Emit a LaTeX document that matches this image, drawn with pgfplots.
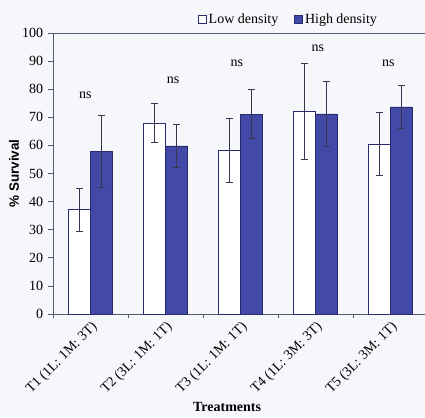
\documentclass[border=0pt]{standalone}
\usepackage{fontspec}
\setmainfont{Liberation Serif}
\setsansfont{Liberation Sans}
\usepackage{pgfplots}
\usepackage{pgfplotstable}
\pgfplotsset{compat=1.18}
\definecolor{barblue}{HTML}{4249A6}
\definecolor{bardark}{HTML}{262B6E}
\definecolor{axcol}{HTML}{55586E}
\definecolor{errcol}{HTML}{3A3550}
\definecolor{bgcol}{HTML}{F6F7FA}

\pgfplotstableread{
x low lowe high highe
0 37.1 7.6 57.9 12.8
1 68.0 7.1 59.8 7.8
2 58.2 11.5 71.1 8.7
3 72.1 17.2 71.2 11.4
4 60.5 11.1 73.7 7.5
}\data

\begin{document}
\fontsize{14}{16}\selectfont
\begin{tikzpicture}
\fill[bgcol] (-53pt,-103pt) rectangle (372pt,314pt);
\begin{axis}[
  at={(0,0)}, anchor=south west,
  scale only axis, width=372pt, height=281pt,
  xmin=-0.5, xmax=4.46, ymin=0, ymax=100,
  axis lines*=left,
  axis line style={axcol, line width=0.8pt, -},
  ybar, bar width=0.293,
  ytick={0,10,...,100},
  xtick={0,1,2,3,4},
  xticklabels={T1 (1L: 1M: 3T), T2 (3L: 1M: 1T), T3 (1L: 1M: 1T), T4 (1L: 3M: 3T), T5 (3L: 3M: 1T)},
  minor xtick={-0.5,0.5,1.5,2.5,3.5},
  major x tick style={draw=none},
  tick align=outside,
  major tick length=5pt, minor tick length=4pt,
  tick style={axcol, line width=0.8pt},
  /pgf/number format/assume math mode=true,
  ticklabel style={font=\fontsize{14}{16}\selectfont, text=black},
  xticklabel style={rotate=45, anchor=north east, inner sep=1pt},
  ylabel={\% Survival},
  ylabel style={font=\sffamily\bfseries\fontsize{13.5}{16}\selectfont, at={(axis description cs:-0.105,0.5)}, anchor=center},
  xlabel={Treatments},
  xlabel style={font=\bfseries\fontsize{14}{16}\selectfont, at={(axis description cs:0.468,-0.331)}, anchor=center},
  legend style={at={(0.633,1)}, anchor=south, yshift=3pt, draw=none, fill=none,
    legend columns=2, font=\fontsize{14}{16}\selectfont,
    /tikz/every even column/.append style={column sep=14pt}},
  clip=false,
]
\addplot[fill=white, draw=bardark, line width=0.8pt, bar shift=-0.1465,
  legend image code/.code={\draw[fill=white, draw=bardark, line width=0.7pt] (0pt,-3.5pt) rectangle (8pt,4.5pt);},
  error bars/.cd, y dir=both, y explicit,
  error bar style={errcol, line width=0.8pt},
  error mark options={errcol, rotate=90, mark size=3.5pt, line width=0.8pt}]
  table[x=x, y=low, y error=lowe]{\data};
\addlegendentry{Low density}
\addplot[fill=barblue, draw=bardark, line width=0.8pt, bar shift=0.1465,
  legend image code/.code={\draw[fill=barblue, draw=bardark, line width=0.7pt] (0pt,-3.5pt) rectangle (8pt,4.5pt);},
  error bars/.cd, y dir=both, y explicit,
  error bar style={errcol, line width=0.8pt},
  error mark options={errcol, rotate=90, mark size=3.5pt, line width=0.8pt}]
  table[x=x, y=high, y error=highe]{\data};
\addlegendentry{High density}
\draw[axcol, line width=0.8pt] (rel axis cs:0,1) -- (rel axis cs:1,1);
\node[font=\fontsize{14}{16}\selectfont] at (axis cs:-0.07,78.0) {ns};
\node[font=\fontsize{14}{16}\selectfont] at (axis cs:1.10,83.0) {ns};
\node[font=\fontsize{14}{16}\selectfont] at (axis cs:1.95,89.3) {ns};
\node[font=\fontsize{14}{16}\selectfont] at (axis cs:3.03,94.6) {ns};
\node[font=\fontsize{14}{16}\selectfont] at (axis cs:3.97,89.3) {ns};
\end{axis}
\pgfresetboundingbox
\path (-53pt,-103pt) rectangle (372pt,314pt);
\end{tikzpicture}
\end{document}
